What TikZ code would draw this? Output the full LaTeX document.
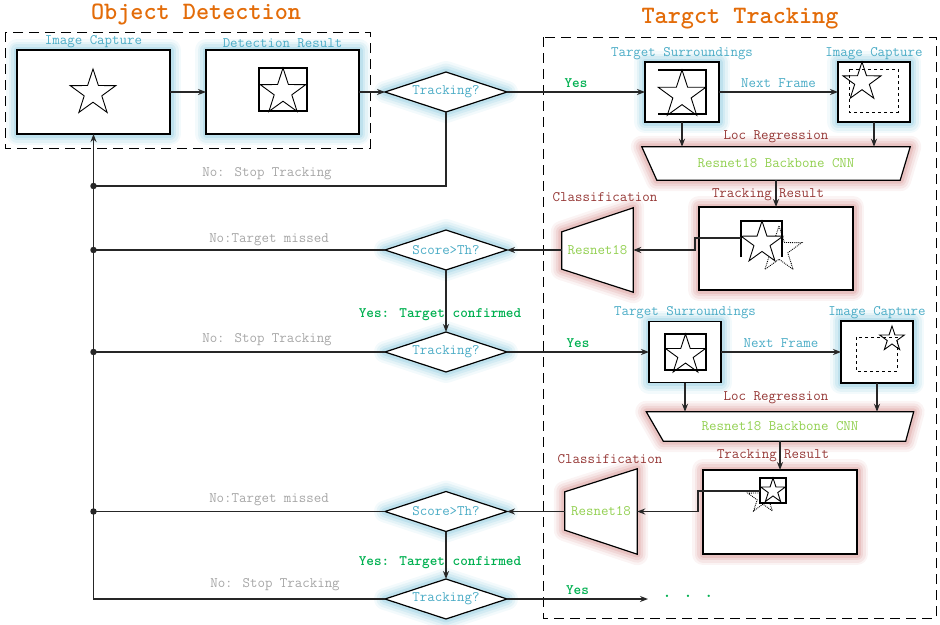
\documentclass[tikz,border=0pt]{standalone}
\usetikzlibrary{positioning,shapes.geometric,arrows.meta,backgrounds}
\definecolor{capblue}{HTML}{4BACC6}
\definecolor{locred}{HTML}{953735}
\definecolor{yesgreen}{HTML}{00B050}
\definecolor{nogray}{HTML}{A6A6A6}
\definecolor{cnngreen}{HTML}{92D050}
\definecolor{titleorange}{HTML}{E36C09}
\definecolor{glowblue}{HTML}{9FD3E4}
\definecolor{glowred}{HTML}{DFA6A5}
\begin{document}
\begin{tikzpicture}[x=1pt, y=-1pt,
  font=\ttfamily\fontsize{14.5}{15}\selectfont,
  box/.style={draw, fill=white, line width=1.2pt, inner sep=0pt, outer sep=0pt},
  blueglow/.style={preaction={draw=glowblue, draw opacity=.12, line width=22pt, line join=round},
    preaction={draw=glowblue, draw opacity=.18, line width=17pt, line join=round},
    preaction={draw=glowblue, draw opacity=.25, line width=12pt, line join=round},
    preaction={draw=glowblue, draw opacity=.4, line width=7pt, line join=round}},
  redglow/.style={preaction={draw=glowred, draw opacity=.12, line width=22pt, line join=round},
    preaction={draw=glowred, draw opacity=.18, line width=17pt, line join=round},
    preaction={draw=glowred, draw opacity=.25, line width=12pt, line join=round},
    preaction={draw=glowred, draw opacity=.4, line width=7pt, line join=round}},
  decision/.style={diamond, draw, fill=white, line width=1.2pt, aspect=3, minimum width=122pt,
    minimum height=40pt, inner sep=0pt, outer sep=0pt, text=capblue, blueglow},
  bigstar/.style={star, star points=5, star point ratio=2.6, draw, line width=.9pt, inner sep=0pt, outer sep=0pt},
  capt/.style={text=capblue, inner sep=1pt},
  redtxt/.style={text=locred, inner sep=1pt},
  notxt/.style={text=nogray},
  yestxt/.style={text=yesgreen, font=\ttfamily\bfseries\fontsize{14.5}{15}\selectfont},
  cnntxt/.style={text=cnngreen, inner sep=0pt},
  title/.style={text=titleorange, font=\ttfamily\bfseries\fontsize{25}{25}\selectfont},
  dashbox/.style={draw, line width=.9pt, dash pattern=on 10pt off 6pt},
  link/.style={draw=black!85, line width=1.4pt},
  arr/.style={link, -{Stealth[length=8pt, width=6pt]}},
  joint/.style={circle, fill=black!85, inner sep=0pt, minimum size=6.5pt}
]
\useasboundingbox (0,0) rectangle (940,624);

% frames and titles
\draw[dashbox] (5,32) rectangle (370,148);
\draw[dashbox] (543,37) rectangle (936,618);
\node[title] (odtitle) at (196,14) {Object Detection};
\node[title] (tttitle) at (740,19) {Targct Tracking};

% object detection
\node[box, blueglow, minimum width=153pt, minimum height=84pt] (ic1) at (93.5,92) {};
\node[capt, above=1pt of ic1] (lic1) {Image Capture};
\node[bigstar, minimum size=48pt] (st1) at (93,93) {};
\node[box, blueglow, minimum width=153pt, minimum height=84pt] (dr1) at (282.5,92) {};
\node[capt, above=1pt of dr1] (ldr1) {Detection Result};
\node[box, minimum width=48pt, minimum height=43pt] (db1) at (283,89.5) {};
\node[bigstar, minimum size=48pt] (st2) at (283,92) {};
\node[decision] (dec1) at (446,92) {Tracking?};
\draw[arr] (ic1) -- (dr1);
\draw[arr] (dr1) -- (dec1);

% tracking, first frame
\node[box, blueglow, minimum width=74pt, minimum height=60pt] (ts1) at (682,92) {};
\node[capt, above=1pt of ts1] (lts1) {Target Surroundings};
\draw[line width=1.1pt] (658,70) -- (706,70) -- (706,114) -- (658,114);
\node[bigstar, minimum size=50pt] (st3) at (682,95) {};
\node[box, blueglow, minimum width=72pt, minimum height=60pt] (ic2) at (874,92) {};
\node[capt, above=1pt of ic2] (lic2) {Image Capture};
\draw[line width=1pt, dashed] (849,69) rectangle (898,112);
\node[bigstar, minimum size=40pt] (st4) at (862,82) {};
\draw[arr] (dec1) -- node[yestxt, above] (y1) {Yes} (ts1);
\draw[arr] (ts1) -- node[capt, above, inner sep=4pt] (nf1) {Next Frame} (ic2);

\node[cnntxt, minimum width=268pt, minimum height=33pt] (cnn1) at (776,163.5) {Resnet18 Backbone CNN};
\node[redtxt] (lr1) at (776,137) {Loc Regression};
\draw[arr] (ts1.south) -- (ts1.south |- cnn1.north);
\draw[arr] (ic2.south) -- (ic2.south |- cnn1.north);

\node[box, redglow, minimum width=154pt, minimum height=83pt] (tr1) at (776,248.5) {};
\node[redtxt] (ltr1) at (768,195) {Tracking Result};
\draw[arr] (cnn1.south) -- (tr1.north);
\draw[line width=1.1pt] (741,257) -- (741,221) -- (782,221) -- (782,257);
\node[bigstar, densely dotted, minimum size=48pt] (st6) at (779,250) {};
\node[bigstar, fill=white, minimum size=44pt] (st5) at (762,243) {};
\coordinate (tb1) at (741,238);

\node[cnntxt, minimum width=71pt, minimum height=84pt] (res1) at (597.5,250) {Resnet18};
\node[redtxt] (lcl1) at (605,197) {Classification};
\draw[arr] (tb1) -- ++(-46,0) |- (res1.east);
\node[decision] (sc1) at (446,250) {Score>Th?};
\draw[arr] (res1.west) -- (sc1.east);

% tracking, next frame
\node[decision] (tk2) at (446,352) {Tracking?};
\node[yestxt] (yc1) at (440,315) {Yes: Target confirmed};
\draw[arr] (sc1.south) -- (tk2.north);

\node[box, blueglow, minimum width=72pt, minimum height=61pt] (ts2) at (685,352) {};
\node[capt, above=1pt of ts2] (lts2) {Target Surroundings};
\draw[line width=1.1pt] (665,334) rectangle (706,370);
\node[bigstar, minimum size=42pt] (st7) at (685.5,355) {};
\node[box, blueglow, minimum width=72pt, minimum height=62pt] (ic3) at (877,352) {};
\node[capt, above=1pt of ic3] (lic3) {Image Capture};
\draw[line width=1pt, dashed] (856,337) rectangle (897,371);
\node[bigstar, minimum size=26pt] (st8) at (892,339) {};
\draw[arr] (tk2) -- node[yestxt, above] (y2) {Yes} (ts2);
\draw[arr] (ts2) -- node[capt, above, inner sep=4pt] (nf2) {Next Frame} (ic3);

\node[cnntxt, minimum width=267pt, minimum height=29pt] (cnn2) at (780,426.5) {Resnet18 Backbone CNN};
\node[redtxt] (lr2) at (776,398) {Loc Regression};
\draw[arr] (ts2.south) -- (ts2.south |- cnn2.north);
\draw[arr] (ic3.south) -- (ic3.south |- cnn2.north);

\node[box, redglow, minimum width=154pt, minimum height=84pt] (tr2) at (780,512) {};
\node[redtxt] (ltr2) at (773,456) {Tracking Result};
\draw[arr] (cnn2.south) -- (tr2.north);
\node[bigstar, densely dotted, minimum size=32pt] (st10) at (763,498) {};
\draw[line width=1.1pt, fill=white] (760,478) rectangle (786,503);
\node[bigstar, minimum size=26pt] (st9) at (773,491) {};
\coordinate (tb2) at (760,491);

\node[cnntxt, minimum width=72pt, minimum height=85pt] (res2) at (601,511.5) {Resnet18};
\node[redtxt] (lcl2) at (610,459) {Classification};
\draw[arr] (tb2) -- ++(-62,0) |- (res2.east);
\node[decision] (sc2) at (446,511.5) {Score>Th?};
\draw[arr] (res2.west) -- (sc2.east);

\node[decision] (tk3) at (446,599) {Tracking?};
\node[yestxt] (yc2) at (440,563) {Yes: Target confirmed};
\draw[arr] (sc2.south) -- (tk3.north);
\coordinate (nxt) at (648,599);
\draw[arr] (tk3) -- node[yestxt, above] (y3) {Yes} (nxt);
\node[yestxt, font=\ttfamily\bfseries\fontsize{17}{17}\selectfont] (more) at (688,596) {. . .};

% trapezia behind their labels
\begin{pgfonlayer}{background}
\draw[redglow, fill=white, line width=1.2pt] (cnn1.north west) -- (cnn1.north east)
  -- ([xshift=-10pt]cnn1.south east) -- ([xshift=15pt]cnn1.south west) -- cycle;
\draw[redglow, fill=white, line width=1.2pt] (cnn2.north west) -- (cnn2.north east)
  -- ([xshift=-8pt]cnn2.south east) -- ([xshift=17pt]cnn2.south west) -- cycle;
\draw[redglow, fill=white, line width=1.2pt] (res1.north east) -- (res1.south east)
  -- ([yshift=23pt]res1.south west) -- ([yshift=-24pt]res1.north west) -- cycle;
\draw[redglow, fill=white, line width=1.2pt] (res2.north east) -- (res2.south east)
  -- ([yshift=24pt]res2.south west) -- ([yshift=-23pt]res2.north west) -- cycle;
\end{pgfonlayer}

% back to detection
\node[joint] (j1) at (93.5,186) {};
\node[joint] (j2) at (93.5,250) {};
\node[joint] (j3) at (93.5,352) {};
\node[joint] (j4) at (93.5,511.5) {};
\node[notxt] (n1) at (267,174) {No: Stop Tracking};
\node[notxt] (n2) at (269,240) {No:Target missed};
\node[notxt] (n3) at (267,340) {No: Stop Tracking};
\node[notxt] (n4) at (269,500) {No:Target missed};
\node[notxt] (n5) at (275,585) {No: Stop Tracking};
\draw[link] (dec1.south) |- (j1.center);
\draw[link] (sc1.west) -- (j2.center);
\draw[link] (tk2.west) -- (j3.center);
\draw[link] (sc2.west) -- (j4.center);
\draw[arr] (tk3.west) -| (ic1.south);

\end{tikzpicture}
\end{document}
